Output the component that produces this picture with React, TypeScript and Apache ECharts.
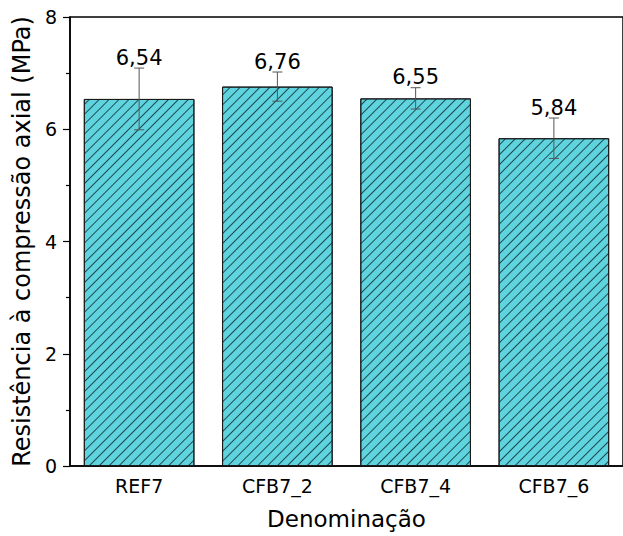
import React, { useEffect, useRef } from "react";
import * as echarts from "echarts";

const categories = ["REF7", "CFB7_2", "CFB7_4", "CFB7_6"];
const values = [6.54, 6.76, 6.55, 5.84];
const errors = [0.55, 0.26, 0.19, 0.36];
const valueLabels = ["6,54", "6,76", "6,55", "5,84"];
const yTicks = [0, 2, 4, 6, 8];

const FONT = "DejaVu Sans";

export default function App() {
  const ref = useRef<HTMLDivElement>(null);
  useEffect(() => {
    if (!ref.current) return;
    const chart = echarts.init(ref.current, null, { renderer: "svg" });
    chart.setOption({
      animation: false,
      grid: {
        left: 70,
        top: 17,
        width: 556,
        height: 449,
        show: true,
        borderColor: "#000",
        borderWidth: 1.5,
        backgroundColor: "transparent",
      },
      xAxis: {
        type: "category",
        data: categories,
        name: "Denominação",
        nameLocation: "middle",
        nameGap: 41,
        nameTextStyle: { fontFamily: FONT, fontSize: 23, color: "#000" },
        axisLine: { lineStyle: { color: "#000", width: 1.5 } },
        axisTick: { show: false },
        axisLabel: { fontFamily: FONT, fontSize: 19, color: "#000", margin: 10 },
      },
      yAxis: {
        type: "value",
        min: yTicks[0],
        max: yTicks[yTicks.length - 1],
        interval: 2,
        name: "Resistência à compressão axial (MPa)",
        nameLocation: "middle",
        nameGap: 28,
        nameTextStyle: { fontFamily: FONT, fontSize: 24, color: "#000" },
        axisLine: { show: true, lineStyle: { color: "#000", width: 1.5 } },
        axisTick: { show: true, inside: false, length: 7, lineStyle: { color: "#000", width: 1.2 } },
        minorTick: { show: true, splitNumber: 2, length: 4, lineStyle: { color: "#000", width: 1.2 } },
        splitLine: { show: false },
        axisLabel: { fontFamily: FONT, fontSize: 19, color: "#000", margin: 13 },
      },
      series: [
        {
          type: "bar",
          data: values,
          barWidth: "80%",
          itemStyle: {
            color: "#60d4de",
            borderColor: "#1a1a1a",
            borderWidth: 1,
            decal: {
              symbol: "rect",
              symbolSize: 1,
              color: "rgba(15,50,56,0.85)",
              dashArrayX: [1, 0],
              dashArrayY: [1, 6],
              rotation: -Math.PI / 4,
            },
          },
        },
        {
          type: "custom",
          data: values.map((v, i) => [i, v, errors[i]]),
          z: 10,
          renderItem: (params: any, api: any) => {
            const i = api.value(0);
            const v = api.value(1);
            const e = api.value(2);
            const top = api.coord([i, v + e]);
            const bot = api.coord([i, v - e]);
            const cap = 5;
            const st = { stroke: "#555", lineWidth: 1 };
            return {
              type: "group",
              children: [
                { type: "line", shape: { x1: top[0], y1: top[1], x2: bot[0], y2: bot[1] }, style: st },
                { type: "line", shape: { x1: top[0] - cap, y1: top[1], x2: top[0] + cap, y2: top[1] }, style: st },
                { type: "line", shape: { x1: bot[0] - cap, y1: bot[1], x2: bot[0] + cap, y2: bot[1] }, style: st },
                {
                  type: "text",
                  x: top[0],
                  y: top[1],
                  style: {
                    text: valueLabels[params.dataIndex],
                    fontFamily: FONT,
                    fontSize: 21,
                    fill: "#000",
                    textAlign: "center",
                    textVerticalAlign: "bottom",
                  },
                },
              ],
            };
          },
        },
      ],
    });
    return () => chart.dispose();
  }, []);
  return (
    <div
      ref={ref}
      style={{ position: "fixed", left: 0, top: 0, width: 623, height: 536, background: "#fff" }}
    />
  );
}
